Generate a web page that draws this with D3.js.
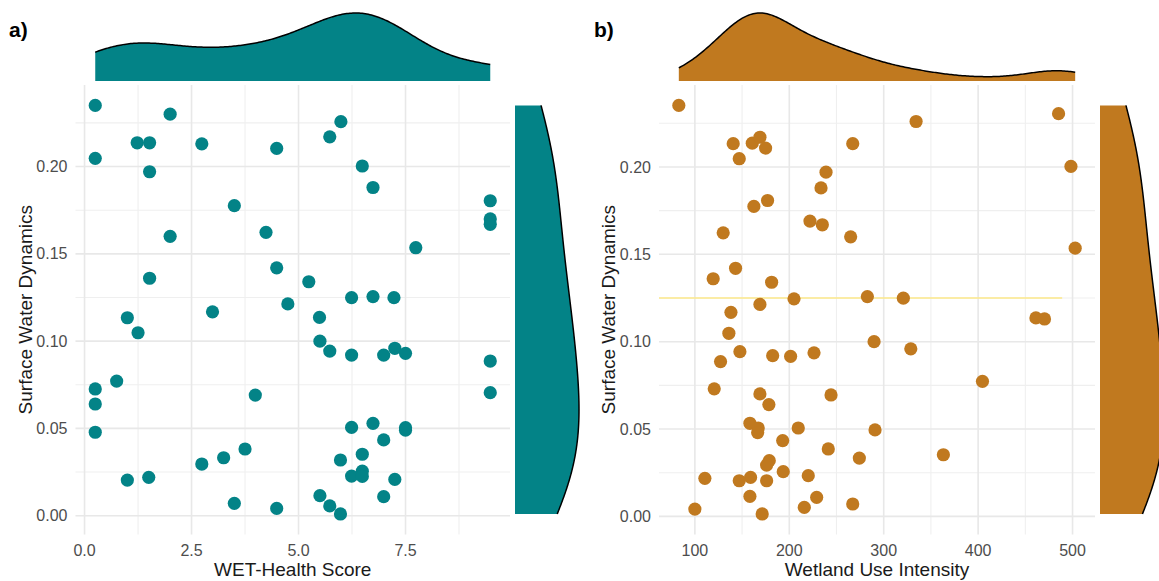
<!DOCTYPE html>
<meta charset="utf-8">
<style>
body { margin: 0; background: #fff; }
text { font-family: "Liberation Sans", Arial, sans-serif; }
.tick-label { font-size: 16px; fill: #4d4d4d; }
.axis-title { font-size: 19px; fill: #1a1a1a; }
.panel-tag { font-size: 21px; font-weight: bold; fill: #000; }
.grid-major { stroke: #e8e8e8; stroke-width: 1.6px; }
.grid-minor { stroke: #efefef; stroke-width: 1.1px; }
</style>
<body>
<script src="https://cdn.jsdelivr.net/npm/d3@7"></script>
<script>
// panel a: WET-Health score vs surface water dynamics
const wetHealth = [0.25,2.0,1.23,1.52,2.74,4.49,0.25,1.52,3.5,2.0,4.24,4.49,1.52,4.75,2.99,1.0,1.25,
  5.99,5.73,6.49,6.74,9.48,9.48,9.48,7.74,5.24,6.24,6.74,7.23,5.49,
  5.5,5.73,6.24,6.99,7.25,7.5,9.48,9.48,6.24,6.74,7.5,7.5,6.99,6.49,5.98,6.24,6.49,6.49,7.25,6.99,5.5,5.73,5.98,4.49,
  0.75,0.25,0.25,0.25,3.99,3.75,3.25,2.74,1.5,1.0,3.5];
const surfaceA = [0.235,0.230,0.2136,0.2136,0.213,0.2104,0.2047,0.197,0.1776,0.160,0.1623,0.142,0.136,0.1213,0.1168,0.1134,0.1048,
  0.2257,0.217,0.2003,0.188,0.1804,0.170,0.1669,0.1535,0.134,0.1249,0.1255,0.1249,0.1136,
  0.100,0.0943,0.092,0.092,0.0959,0.093,0.0886,0.0705,0.0506,0.0529,0.0505,0.049,0.0434,0.0352,0.0319,0.0227,0.0255,0.0225,0.0208,0.0109,0.0115,0.0056,0.001,0.0042,
  0.0771,0.0726,0.064,0.0478,0.0691,0.0382,0.0332,0.0296,0.022,0.0204,0.0071];

// panel b: wetland use intensity vs surface water dynamics
const wetlandUse = [83,140.6,147,160.8,168.9,174.9,267.2,238.9,233.6,177,162.5,221.9,235,265,130,143.1,119.4,181.3,205,282.7,168.9,138.2,136,
  334.3,485.2,498.3,502.8,320.8,461.2,470.3,
  147.7,127.2,182.4,201.4,226.2,289.8,120.5,168.9,178.4,244.2,158.3,167.1,166.5,209.5,290.8,193,241.3,274.2,178.8,176,193.6,220.1,159,147,176,110.6,158.3,229,100,215.9,267.2,171.3,
  328.7,404.6,363.2];
const surfaceB = [0.2352,0.2133,0.2047,0.2136,0.217,0.2108,0.2133,0.197,0.188,0.1808,0.1774,0.169,0.1669,0.160,0.1623,0.142,0.136,0.134,0.1245,0.1258,0.1213,0.1168,0.1048,
  0.226,0.2305,0.2003,0.1535,0.1249,0.1136,0.113,
  0.0943,0.0886,0.092,0.0916,0.0936,0.100,0.073,0.0701,0.064,0.0695,0.0533,0.0506,0.048,0.0506,0.0495,0.0434,0.0386,0.0334,0.0319,0.0294,0.0256,0.0233,0.0223,0.0204,0.0204,0.0218,0.0115,0.0109,0.0042,0.0052,0.0071,0.0014,
  0.0959,0.0773,0.0353];

const ticksA = [0, 2.5, 5, 7.5];
const minorA = [1.25, 3.75, 6.25, 8.75];
const ticksB = [100, 200, 300, 400, 500];
const minorB = [150, 250, 350, 450];
const ticksY = [0, 0.05, 0.10, 0.15, 0.20];
const minorY = [0.025, 0.075, 0.125, 0.175, 0.225];
const hlineB = {y: 0.125, xEnd: 489};

const width = 1159, height = 581;
const svg = d3.select('body').append('svg')
  .attr('width', width).attr('height', height);

function expand(ext) {
  const p = (ext[1] - ext[0]) * 0.05;
  return [ext[0] - p, ext[1] + p];
}

// gaussian kde, bandwidth like R's bw.nrd0 (times adjust)
function bwNrd0(v) {
  const s = v.slice().sort(d3.ascending);
  const iqr = d3.quantile(s, 0.75) - d3.quantile(s, 0.25);
  return 0.9 * Math.min(d3.deviation(v), iqr / 1.34) * Math.pow(v.length, -0.2);
}
function kde(v, lo, hi, adjust) {
  const bw = bwNrd0(v) * (adjust || 1);
  return d3.range(0, 257).map(i => {
    const x = lo + (hi - lo) * i / 256;
    const d = d3.mean(v, t => Math.exp(-0.5 * ((x - t) / bw) ** 2)) / (bw * Math.sqrt(2 * Math.PI));
    return [x, d];
  });
}

function panel(cfg) {
  const g = svg.append('g');
  const x = d3.scaleLinear().domain(expand(d3.extent(cfg.xs))).range([cfg.left, cfg.right]);
  const y = d3.scaleLinear().domain(expand(d3.extent(cfg.ys))).range([534.4, 85]);
  const top = 85, bottom = 534.4;

  // grid
  g.selectAll('.vmin').data(cfg.minor).enter().append('line')
    .attr('class', 'grid-minor')
    .attr('x1', d => x(d)).attr('x2', d => x(d)).attr('y1', top).attr('y2', bottom);
  g.selectAll('.hmin').data(minorY).enter().append('line')
    .attr('class', 'grid-minor')
    .attr('y1', d => y(d)).attr('y2', d => y(d)).attr('x1', cfg.left).attr('x2', cfg.right);
  g.selectAll('.vmaj').data(cfg.ticks).enter().append('line')
    .attr('class', 'grid-major')
    .attr('x1', d => x(d)).attr('x2', d => x(d)).attr('y1', top).attr('y2', bottom);
  g.selectAll('.hmaj').data(ticksY).enter().append('line')
    .attr('class', 'grid-major')
    .attr('y1', d => y(d)).attr('y2', d => y(d)).attr('x1', cfg.left).attr('x2', cfg.right);

  if (cfg.hline) {
    g.append('line')
      .attr('x1', cfg.left).attr('x2', x(cfg.hline.xEnd))
      .attr('y1', y(cfg.hline.y)).attr('y2', y(cfg.hline.y))
      .style('stroke', '#fde98a').style('stroke-width', 1.6);
  }

  // points
  g.selectAll('circle').data(cfg.xs.map((d, i) => [d, cfg.ys[i]])).enter().append('circle')
    .attr('cx', d => x(d[0])).attr('cy', d => y(d[1])).attr('r', 6.6)
    .style('fill', cfg.color);

  // tick labels
  g.selectAll('.xt').data(cfg.ticks).enter().append('text')
    .attr('class', 'tick-label').attr('text-anchor', 'middle')
    .attr('x', d => x(d)).attr('y', 556)
    .text(cfg.fmt);
  g.selectAll('.yt').data(ticksY).enter().append('text')
    .attr('class', 'tick-label').attr('text-anchor', 'end')
    .attr('x', cfg.left - 8).attr('y', d => y(d)).attr('dy', '0.35em')
    .text(d3.format('.2f'));

  // titles
  g.append('text').attr('class', 'axis-title').attr('text-anchor', 'middle')
    .attr('x', (cfg.left + cfg.right) / 2).attr('y', 576).text(cfg.xTitle);
  g.append('text').attr('class', 'axis-title').attr('text-anchor', 'middle')
    .attr('transform', 'translate(' + (cfg.left - 44) + ',' + (top + bottom) / 2 + ') rotate(-90)')
    .text('Surface Water Dynamics');
  g.append('text').attr('class', 'panel-tag').attr('x', cfg.tagX).attr('y', 37).text(cfg.tag);

  // top marginal density
  const ex = d3.extent(cfg.xs);
  const dx = kde(cfg.xs, ex[0], ex[1], 1);
  const hx = d3.scaleLinear().domain([0, d3.max(dx, d => d[1])]).range([81, 13]);
  g.append('path').datum(dx)
    .attr('d', d3.area().x(d => x(d[0])).y0(81).y1(d => hx(d[1])))
    .style('fill', cfg.color);
  g.append('path').datum(dx)
    .attr('d', d3.line().x(d => x(d[0])).y(d => hx(d[1])))
    .style('fill', 'none').style('stroke', '#000').style('stroke-width', 1.5);

  // right marginal density
  const ey = d3.extent(cfg.ys);
  const dy = kde(cfg.ys, ey[0], ey[1], 1.5);
  const hy = d3.scaleLinear().domain([0, d3.max(dy, d => d[1])]).range([cfg.right + 5, cfg.right + 69]);
  g.append('path').datum(dy)
    .attr('d', d3.area().y(d => y(d[0])).x0(cfg.right + 5).x1(d => hy(d[1])))
    .style('fill', cfg.color);
  g.append('path').datum(dy)
    .attr('d', d3.line().y(d => y(d[0])).x(d => hy(d[1])))
    .style('fill', 'none').style('stroke', '#000').style('stroke-width', 1.5);
}

panel({xs: wetHealth, ys: surfaceA, left: 75.5, right: 510, color: '#038387',
  ticks: ticksA, minor: minorA, fmt: d3.format('.1f'), xTitle: 'WET-Health Score', tag: 'a)', tagX: 9});
panel({xs: wetlandUse, ys: surfaceB, left: 659, right: 1095, color: '#c0791f',
  ticks: ticksB, minor: minorB, fmt: d => d, xTitle: 'Wetland Use Intensity', tag: 'b)', tagX: 594,
  hline: hlineB});
</script>
</body>
